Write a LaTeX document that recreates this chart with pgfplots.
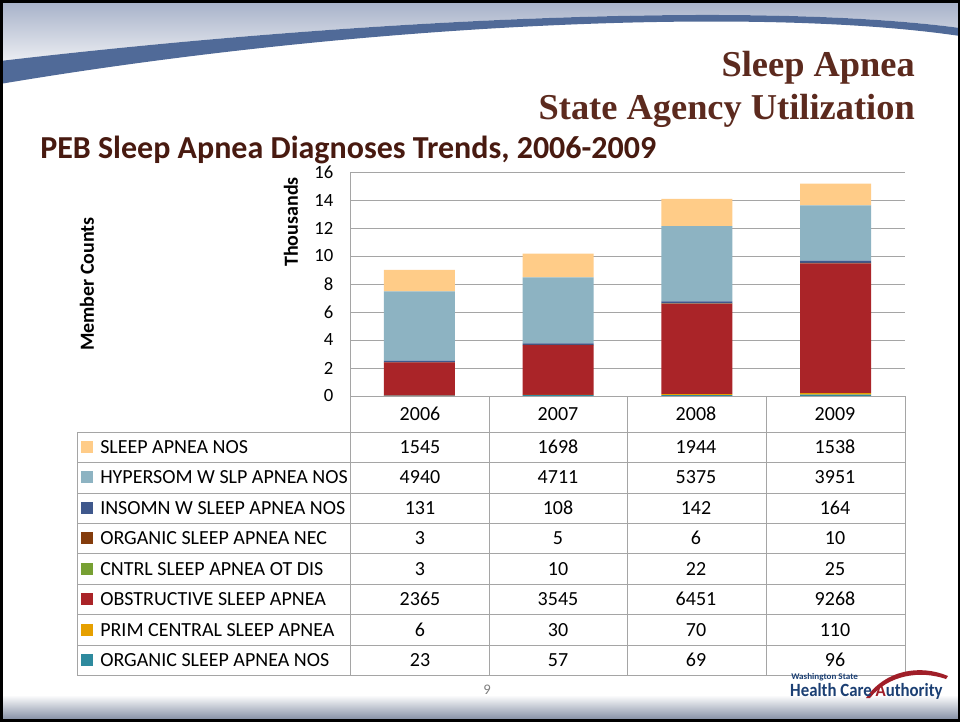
\documentclass[border=0pt]{standalone}
\usepackage{pgfplots}
\usepackage{pgfplotstable}
\pgfplotsset{compat=1.18}
\usepackage{fontspec}
\setmainfont{Carlito}
\newfontfamily\titlefont{Liberation Serif}
\definecolor{cSAN}{RGB}{255,204,136}
\definecolor{cHYP}{RGB}{141,179,194}
\definecolor{cINS}{RGB}{63,88,140}
\definecolor{cONEC}{RGB}{132,60,12}
\definecolor{cCNT}{RGB}{119,160,51}
\definecolor{cOBS}{RGB}{170,36,40}
\definecolor{cPRI}{RGB}{230,160,0}
\definecolor{cONOS}{RGB}{46,138,158}
\definecolor{titlebrown}{RGB}{92,42,30}
\definecolor{subbrown}{RGB}{72,26,16}
\definecolor{gridgray}{RGB}{165,165,165}
\definecolor{swoosh}{RGB}{80,106,152}
\definecolor{topgray}{RGB}{165,176,200}
\definecolor{toplight}{RGB}{235,237,242}
\definecolor{logoblue}{RGB}{27,63,115}
\definecolor{logored}{RGB}{160,30,40}

\pgfplotstableread{
x ONOS PRIM OBS CNTRL ONEC INS HYP SAN
0 23 6 2365 3 3 131 4940 1545
1 57 30 3545 10 5 108 4711 1698
2 69 70 6451 22 6 142 5375 1944
3 96 110 9268 25 10 164 3951 1538
}\datatable

\begin{document}
\begin{tikzpicture}[x=0.75pt,y=-0.75pt]
\useasboundingbox (0,0) rectangle (960,721);
\fill[white] (0,0) rectangle (960,721);
% top decoration
\shade[top color=topgray, bottom color=toplight] (0,0) -- (960,0) -- (960,28) .. controls (750,0) and (350,20) .. (0,61) -- cycle;
\fill[swoosh] (0,61) .. controls (350,20) and (750,0) .. (960,28) -- (960,36) .. controls (750,5) and (350,25) .. (0,84) -- cycle;
% bottom bar
\shade[top color=white, bottom color=topgray!85!black] (0,695) rectangle (960,718);
% frame
\draw[black, line width=2.25pt] (1,1) rectangle (959,720);

% titles
\node[anchor=base east, inner sep=0, font=\titlefont\bfseries\fontsize{27.3}{27.3}\selectfont, text=titlebrown] at (915,76) {Sleep Apnea};
\node[anchor=base east, inner sep=0, font=\titlefont\bfseries\fontsize{27.3}{27.3}\selectfont, text=titlebrown] at (915,119) {State Agency Utilization};
\node[anchor=base west, inner sep=0, font=\bfseries\fontsize{24}{24}\selectfont, text=subbrown] at (40,158) {PEB Sleep Apnea Diagnoses Trends, 2006-2009};

\begin{axis}[
  at={(262.5pt,-297pt)}, anchor=south west,
  scale only axis, width=416.25pt, height=168pt,
  ymin=0, ymax=16, ytick={0,2,...,16},
  xmin=-0.5, xmax=3.5, xtick=\empty,
  ybar stacked, bar width=53.25pt,
  ymajorgrids, grid style={gridgray, line width=0.75pt},
  axis x line=none, axis y line*=left,
  axis line style={gridgray, line width=0.75pt},
  major tick length=0pt,
  yticklabel style={font=\fontsize{14}{14}\selectfont, text=black, xshift=-9pt},
  /pgf/number format/assume math mode=true,
  clip=false,
]
\addplot[fill=cONOS, draw=none] table[x=x, y expr=\thisrow{ONOS}/1000] {\datatable};
\addplot[fill=cPRI, draw=none] table[x=x, y expr=\thisrow{PRIM}/1000] {\datatable};
\addplot[fill=cOBS, draw=none] table[x=x, y expr=\thisrow{OBS}/1000] {\datatable};
\addplot[fill=cCNT, draw=none] table[x=x, y expr=\thisrow{CNTRL}/1000] {\datatable};
\addplot[fill=cONEC, draw=none] table[x=x, y expr=\thisrow{ONEC}/1000] {\datatable};
\addplot[fill=cINS, draw=none] table[x=x, y expr=\thisrow{INS}/1000] {\datatable};
\addplot[fill=cHYP, draw=none] table[x=x, y expr=\thisrow{HYP}/1000] {\datatable};
\addplot[fill=cSAN, draw=none] table[x=x, y expr=\thisrow{SAN}/1000] {\datatable};
\end{axis}

% axis labels
\node[rotate=90, font=\bfseries\fontsize{15}{15}\selectfont] at (291,222) {Thousands};
\node[rotate=90, font=\bfseries\fontsize{15}{15}\selectfont] at (87,284) {Member Counts};

% data table
\begin{scope}[gridgray, line width=0.75pt]
\draw (350,396) -- (905,396);
\foreach \yy in {432,462,493,523,553.5,584,614.5,645,675.5} \draw (77,\yy) -- (905,\yy);
\draw (77,432) -- (77,675.5);
\draw (350,396) -- (350,675.5);
\foreach \xx in {489,627,766,905} \draw (\xx,396) -- (\xx,675.5);
\end{scope}
\foreach \yr/\xc in {2006/420,2007/558,2008/696,2009/835}
  \node[anchor=base, inner sep=0, font=\fontsize{15}{15}\selectfont] at (\xc,420) {\yr};

\foreach \yc/\col/\lab/\a/\b/\c/\d in {
  447/cSAN/SLEEP APNEA NOS/1545/1698/1944/1538,
  477/cHYP/HYPERSOM W SLP APNEA NOS/4940/4711/5375/3951,
  508/cINS/INSOMN W SLEEP APNEA NOS/131/108/142/164,
  538/cONEC/ORGANIC SLEEP APNEA NEC/3/5/6/10,
  569/cCNT/CNTRL SLEEP APNEA OT DIS/3/10/22/25,
  599/cOBS/OBSTRUCTIVE SLEEP APNEA/2365/3545/6451/9268,
  630/cPRI/PRIM CENTRAL SLEEP APNEA/6/30/70/110,
  660/cONOS/ORGANIC SLEEP APNEA NOS/23/57/69/96}{
  \fill[\col] (81,\yc-6) rectangle (93,\yc+6);
  \node[anchor=base west, inner sep=0, font=\fontsize{15}{15}\selectfont] at (100,\yc+6.5) {\lab};
  \node[anchor=base, inner sep=0, font=\fontsize{15}{15}\selectfont] at (420,\yc+6.5) {\a};
  \node[anchor=base, inner sep=0, font=\fontsize{15}{15}\selectfont] at (558,\yc+6.5) {\b};
  \node[anchor=base, inner sep=0, font=\fontsize{15}{15}\selectfont] at (696,\yc+6.5) {\c};
  \node[anchor=base, inner sep=0, font=\fontsize{15}{15}\selectfont] at (835,\yc+6.5) {\d};
}

% page number
\node[font=\fontsize{11}{11}\selectfont, text=gray] at (487,690) {9};

% logo
\fill[logored] (866,698) .. controls (885,670) and (920,664) .. (948,676) -- (946,679) .. controls (920,670) and (888,675) .. (870,698) -- cycle;
\node[anchor=base west, inner sep=0, font=\bfseries\fontsize{6.5}{6.5}\selectfont, text=logoblue, xscale=1.05] at (791,679) {Washington State};
\node[anchor=base west, inner sep=0, font=\bfseries\fontsize{14}{14}\selectfont, text=logoblue, xscale=0.9] at (790,696) {Health Care \textcolor{logored}{A}uthority};
\end{tikzpicture}
\end{document}
